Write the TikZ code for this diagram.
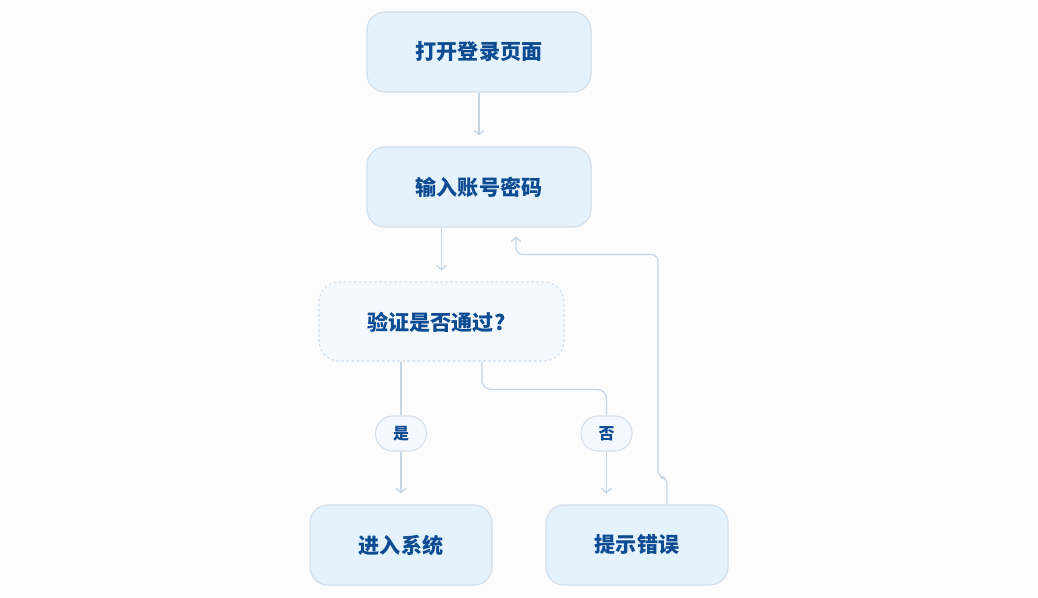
\documentclass[tikz,border=0pt]{standalone}
\usepackage{fontspec}
\setmainfont{Noto Sans CJK SC}
\usetikzlibrary{arrows.meta,calc}
\definecolor{bg}{HTML}{FCFCFC}
\definecolor{nodefill}{HTML}{E3F2FD}
\definecolor{nodeline}{HTML}{D3DFEA}
\definecolor{decfill}{HTML}{F4F9FF}
\definecolor{txt}{HTML}{0D4B92}
\definecolor{wire}{HTML}{C6D6E4}
\begin{document}
\begin{tikzpicture}[x=0.75pt,y=-0.75pt,
  box/.style={draw=nodeline, fill=nodefill, line width=0.9pt, rounded corners=13.5pt,
    minimum width=168pt, minimum height=60pt, inner sep=0pt,
    font=\bfseries\fontsize{15.8}{18}\selectfont, text=txt},
  smallbox/.style={box, minimum width=136.5pt},
  decbox/.style={draw=nodeline, fill=decfill, line width=0.8pt, dash pattern=on 2pt off 1.8pt,
    rounded corners=15pt, minimum width=183.75pt, minimum height=59.25pt, inner sep=0pt},
  dectext/.style={inner sep=0pt, font=\bfseries\fontsize{15.8}{18}\selectfont, text=txt},
  pill/.style={draw=nodeline, fill=decfill, line width=0.8pt, rounded corners=13pt,
    minimum width=38.25pt, minimum height=26.25pt, inner sep=0pt,
    font=\bfseries\fontsize{12}{14}\selectfont, text=txt},
  wireline/.style={draw=wire, line width=0.95pt},
  arr/.style={wireline, -{Straight Barb[length=3.2pt,width=7.5pt]}, shorten >=8.25pt},
]
\fill[bg] (0,0) rectangle (1038,598);
\useasboundingbox (0,0) rectangle (1038,598);

\node[box] (n1) at (479,52) {打开登录页面};
\node[box] (n2) at (479,187) {输入账号密码};
\node[decbox] (dec) at (441.5,321.5) {};
\node[dectext] (dect) at (436.5,322) {验证是否通过?};
\node[smallbox] (ok) at (401,545) {进入系统};
\node[smallbox] (err) at (637,545) {提示错误};
\node[pill] (lyes) at (401,433.5) {是};
\node[pill] (lno) at (606.5,433.5) {否};

\draw[arr] (n1.south) -- (n2.north);
\draw[arr] (n2.south -| dec) -- (dec.north);

\draw[wireline] (dec.south -| lyes) -- (lyes.north);
\draw[arr] (lyes.south) -- (ok.north -| lyes);

\draw[wireline, rounded corners=7pt] ($(dec.south)+(40.5,0)$) -- ++(0,28) -| (lno.north);
\draw[arr] (lno.south) -- (lno.south |- err.north);

\draw[arr, rounded corners=5pt, shorten >=6.75pt] ($(err.north)+(30,0)$) -- ++(0,-27) -- ++(-9,0)
  |- ($(n2.south)+(37,27)$) -- ($(n2.south)+(37,0)$);
\end{tikzpicture}
\end{document}
